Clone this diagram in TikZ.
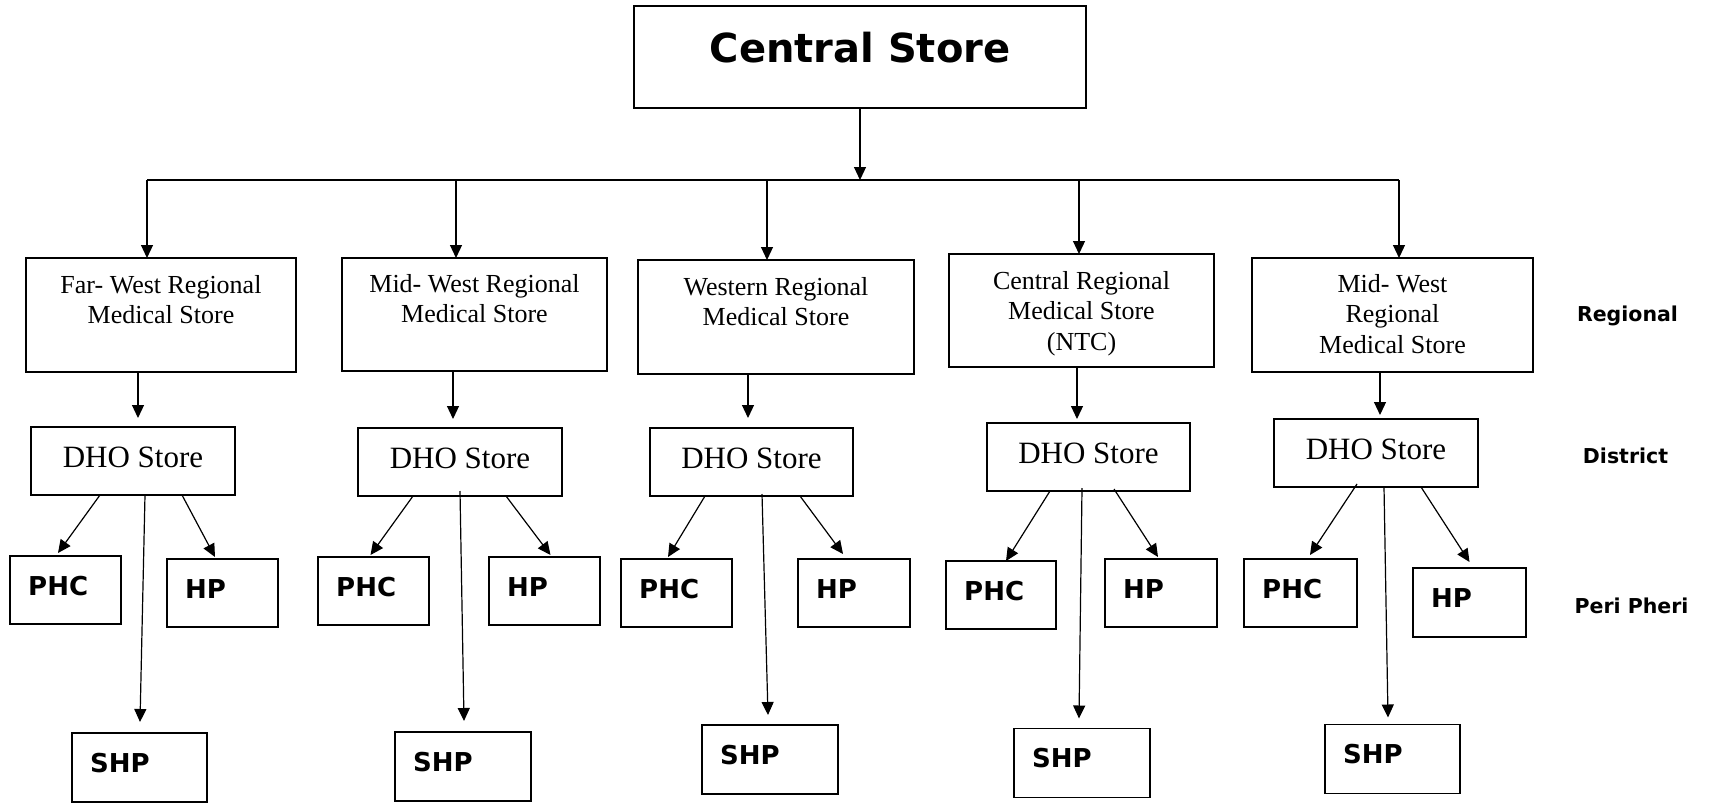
\documentclass[tikz,border=0pt]{standalone}
\usepackage{fontspec}
\setmainfont{Liberation Serif}
\newfontfamily\vsans{DejaVu Sans}
\usetikzlibrary{arrows.meta}
\begin{document}
\begin{tikzpicture}[x=1pt,y=-1pt,
  box/.style={draw=black, line width=1.5pt, fill=white, inner sep=0pt, outer sep=0pt},
  bigbox/.style={box, minimum width=#1},
  regbox/.style={box, minimum height=114pt},
  dhobox/.style={box, minimum width=204pt, minimum height=68pt},
  smallbox/.style={box, minimum width=112pt, minimum height=68pt},
  shpbox/.style={box, minimum width=136pt, minimum height=69pt},
  arr/.style={line width=1.2pt, -{Triangle[length=13pt,width=12pt]}},
  bus/.style={line width=2pt},
  headtxt/.style={inner sep=0pt, font=\vsans\bfseries\fontsize{40}{46}\selectfont},
  regtxt/.style={inner sep=0pt, align=center, font=\fontsize{26}{30.5}\selectfont},
  dhotxt/.style={inner sep=0pt, font=\fontsize{31}{36}\selectfont},
  unittxt/.style={inner sep=0pt, font=\vsans\bfseries\fontsize{26}{30}\selectfont},
  leveltxt/.style={inner sep=0pt, font=\vsans\bfseries\fontsize{20.5}{24}\selectfont},
]
\useasboundingbox[fill=white] (0,0) rectangle (1712,803);

% top level
\node[box, minimum width=452pt, minimum height=102pt] (cs) at (860,57) {};
\node[headtxt, anchor=base] (cst) at (860,62) {Central Store};

% regional stores
\node[regbox, minimum width=270pt] (r1) at (161,315) {};
\node[regbox, minimum width=265pt, minimum height=113pt] (r2) at (474.5,314.5) {};
\node[regbox, minimum width=276pt] (r3) at (776,317) {};
\node[regbox, minimum width=265pt, minimum height=113pt] (r4) at (1081.5,310.5) {};
\node[regbox, minimum width=281pt] (r5) at (1392.5,315) {};

\node[regtxt, anchor=north] (r1t) at (r1.north) {\rule{0pt}{35pt}Far- West Regional\\Medical Store};
\node[regtxt, anchor=north] (r2t) at (r2.north) {\rule{0pt}{34pt}Mid- West Regional\\Medical Store};
\node[regtxt, anchor=north] (r3t) at (r3.north) {\rule{0pt}{35pt}Western Regional\\Medical Store};
\node[regtxt, anchor=north] (r4t) at (r4.north) {\rule{0pt}{35pt}Central Regional\\Medical Store\\(NTC)};
\node[regtxt, anchor=north] (r5t) at (r5.north) {\rule{0pt}{34pt}Mid- West\\Regional\\Medical Store};

% district stores
\node[dhobox] (d1) at (133,461) {};
\node[dhobox] (d2) at (460,462) {};
\node[dhobox, minimum width=203pt] (d3) at (751.5,462) {};
\node[dhobox, minimum width=203pt] (d4) at (1088.5,457) {};
\node[dhobox] (d5) at (1376,453) {};
\foreach \d in {d1,d2,d3,d4,d5}
  \node[dhotxt, anchor=base] (\d t) at ([yshift=-6pt]\d.center) {DHO Store};

% peripheral units
\node[smallbox, minimum width=111pt] (p1) at (65.5,590) {};
\node[smallbox, minimum width=111pt] (h1) at (222.5,593) {};
\node[smallbox, minimum width=111pt] (p2) at (373.5,591) {};
\node[smallbox, minimum width=111pt] (h2) at (544.5,591) {};
\node[smallbox, minimum width=111pt] (p3) at (676.5,593) {};
\node[smallbox] (h3) at (854,593) {};
\node[smallbox, minimum width=110pt] (p4) at (1001,595) {};
\node[smallbox] (h4) at (1161,593) {};
\node[smallbox, minimum width=113pt] (p5) at (1300.5,593) {};
\node[smallbox, minimum width=113pt, minimum height=69pt] (h5) at (1469.5,602.5) {};

\node[shpbox, minimum width=135pt] (s1) at (139.5,767.5) {};
\node[shpbox] (s2) at (463,766.5) {};
\node[shpbox] (s3) at (770,759.5) {};
\node[shpbox] (s4) at (1082,763) {};
\node[shpbox, minimum width=135pt] (s5) at (1392.5,759) {};

\foreach \u in {p1,p2,p3,p4,p5}
  \node[unittxt, anchor=base west] (\u t) at ([xshift=18pt,yshift=-39pt]\u.north west) {PHC};
\foreach \u in {h1,h2,h3,h4,h5}
  \node[unittxt, anchor=base west] (\u t) at ([xshift=18pt,yshift=-39pt]\u.north west) {HP};
\foreach \u in {s1,s2,s3,s4,s5}
  \node[unittxt, anchor=base west] (\u t) at ([xshift=18pt,yshift=-39pt]\u.north west) {SHP};

% level labels
\node[leveltxt, anchor=base] (lreg) at (1627.5,321) {Regional};
\node[leveltxt, anchor=base] (ldis) at (1625.5,463) {District};
\node[leveltxt, anchor=base] (lper) at (1631.5,613) {Peri Pheri};

% distribution bus
\coordinate (b1) at (147,180);
\coordinate (b2) at (456,180);
\coordinate (b3) at (767,180);
\coordinate (b4) at (1079,180);
\coordinate (b5) at (1399,180);
\draw[bus] (b1) -- (b5);
\draw[arr] (cs.south) -- (cs.south |- b1);
\foreach \i in {1,...,5}
  \draw[arr] (b\i) -- (b\i |- r\i.north);

% regional to district
\draw[arr, shorten >=9pt] ([xshift=-23pt]r1.south) -- ([xshift=5pt]d1.north);
\draw[arr, shorten >=9pt] ([xshift=-21.5pt]r2.south) -- ([xshift=-7pt]d2.north);
\draw[arr, shorten >=10pt] ([xshift=-28pt]r3.south) -- ([xshift=-3.5pt]d3.north);
\draw[arr, shorten >=4pt] ([xshift=-4.5pt]r4.south) -- ([xshift=-11.5pt]d4.north);
\draw[arr, shorten >=4pt] ([xshift=-12.5pt]r5.south) -- ([xshift=4pt]d5.north);

% district to peripheral units
\draw[arr] ([xshift=-33pt]d1.south) -- ([xshift=-7.5pt,yshift=3pt]p1.north);
\draw[arr] ([xshift=49pt]d1.south) -- ([xshift=-7.5pt,yshift=2pt]h1.north);
\draw[arr] ([xshift=12pt]d1.south) -- ([xshift=0.5pt,yshift=11pt]s1.north);

\draw[arr] ([xshift=-47pt]d2.south) -- ([xshift=-3pt,yshift=2pt]p2.north);
\draw[arr] ([xshift=46pt]d2.south) -- ([xshift=6pt,yshift=2pt]h2.north);
\draw[arr] ([yshift=5pt]d2.south) -- ([xshift=1pt,yshift=11pt]s2.north);

\draw[arr] ([xshift=-46.5pt]d3.south) -- ([xshift=-8.5pt,yshift=2pt]p3.north);
\draw[arr] ([xshift=48.5pt]d3.south) -- ([xshift=-11pt,yshift=5pt]h3.north);
\draw[arr] ([xshift=10.5pt,yshift=2pt]d3.south) -- ([xshift=-2pt,yshift=10pt]s3.north);

\draw[arr] ([xshift=-38.5pt]d4.south) -- ([xshift=5pt]p4.north);
\draw[arr] ([xshift=25.5pt,yshift=2pt]d4.south) -- ([xshift=-3pt,yshift=2pt]h4.north);
\draw[arr] ([xshift=-6.5pt,yshift=3pt]d4.south) -- ([xshift=-3pt,yshift=10pt]s4.north);

\draw[arr] ([xshift=-19pt,yshift=3pt]d5.south) -- ([xshift=9.5pt,yshift=4pt]p5.north);
\draw[arr] ([xshift=45pt]d5.south) -- ([yshift=6pt]h5.north);
\draw[arr] ([xshift=8pt]d5.south) -- ([xshift=-4.5pt,yshift=7pt]s5.north);
\end{tikzpicture}
\end{document}
